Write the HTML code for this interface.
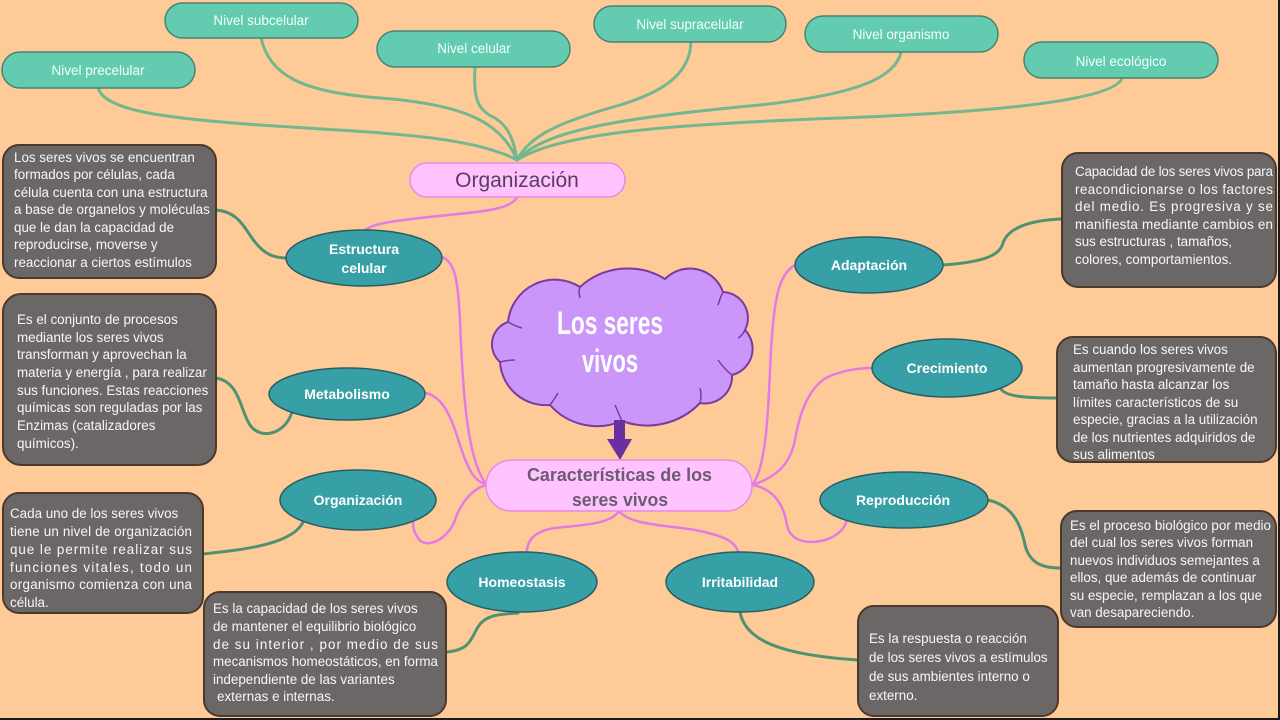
<!DOCTYPE html>
<html>
<head>
<meta charset="utf-8">
<style>
html,body{margin:0;padding:0;background:#FECB98;}
svg{display:block;}
.bt{font-family:"Liberation Sans",sans-serif;font-size:13.4px;fill:#f7f7f7;}
.pl{font-family:"Liberation Sans",sans-serif;font-size:13.5px;fill:#f2fff8;}
.el{font-family:"Liberation Sans",sans-serif;font-size:14px;font-weight:bold;fill:#ffffff;}
</style>
</head>
<body>
<svg width="1280" height="720" viewBox="0 0 1280 720" xmlns="http://www.w3.org/2000/svg">
<rect x="0" y="0" width="1280" height="720" fill="#FECB98"/>

<!-- top green connectors -->
<g fill="none" stroke="#74B78F" stroke-width="3" stroke-linecap="round">
<path d="M98,88 C105,110 160,118 260,125 C380,133 470,135 517,160"/>
<path d="M261,38 C270,75 300,92 380,98 C460,104 500,120 517,160"/>
<path d="M475,67 C473,100 478,110 495,118 C508,126 514,140 517,160"/>
<path d="M691,42 C690,70 670,90 620,105 C560,122 530,135 517,160"/>
<path d="M901,52 C895,80 850,95 760,105 C620,118 545,130 517,160"/>
<path d="M1122,78 C1115,100 1000,112 840,118 C680,124 560,132 517,160"/>
</g>

<!-- lower green connectors -->
<g fill="none" stroke="#4F9272" stroke-width="3" stroke-linecap="round">
<path d="M216,210 C240,212 245,230 255,242 C265,255 275,258 287,258"/>
<path d="M216,378 C240,382 240,410 250,425 C260,440 285,435 292,412"/>
<path d="M203,554 C240,550 295,545 304,520"/>
<path d="M446,652 C470,650 470,640 478,627 C485,615 500,614 518,613"/>
<path d="M740,612 C745,640 780,655 858,660"/>
<path d="M988,500 C1010,505 1020,520 1025,545 C1030,565 1045,568 1061,568"/>
<path d="M1000,388 C1005,396 1020,398 1058,398"/>
<path d="M943,265 C985,262 1000,255 1003,243 C1008,228 1030,220 1062,219"/>
</g>

<!-- pink connectors -->
<g fill="none" stroke="#E47AE4" stroke-width="2.5" stroke-linecap="round">
<path d="M517,197 C510,212 470,212 420,218 C385,222 368,225 364,232"/>
<path d="M442,257 C455,262 458,280 460,320 C463,400 468,460 486,484"/>
<path d="M426,393 C445,398 452,420 460,445 C468,470 475,482 486,484"/>
<path d="M486,485 C470,490 460,505 455,520 C448,540 425,550 418,538 C414,532 413,528 413,522"/>
<path d="M619,511 C610,525 580,525 555,528 C535,531 527,540 527,552"/>
<path d="M619,511 C630,525 665,525 695,530 C720,535 735,540 738,552"/>
<path d="M752,485 C765,470 768,420 770,370 C773,300 778,275 795,265"/>
<path d="M752,485 C775,478 790,465 795,440 C800,410 810,385 830,376 C845,370 860,368 872,368"/>
<path d="M752,485 C770,488 783,500 787,525 C790,540 805,545 825,540 C838,536 845,528 847,520"/>
</g>

<!-- top pills -->
<g fill="#63CCB0" stroke="#4A8270" stroke-width="1.5">
<rect x="2" y="52" width="193" height="36" rx="18"/>
<rect x="165" y="3" width="193" height="35" rx="17.5"/>
<rect x="377" y="31" width="193" height="36" rx="18"/>
<rect x="594" y="6" width="192" height="36" rx="18"/>
<rect x="805" y="16" width="193" height="36" rx="18"/>
<rect x="1024" y="42" width="194" height="36" rx="18"/>
</g>
<g class="pl" text-anchor="middle">
<text x="98" y="75">Nivel precelular</text>
<text x="261" y="25">Nivel subcelular</text>
<text x="474" y="53">Nivel celular</text>
<text x="690" y="29">Nivel supracelular</text>
<text x="901" y="39">Nivel organismo</text>
<text x="1121" y="66">Nivel ecológico</text>
</g>

<!-- Organización pill -->
<rect x="410" y="163" width="215" height="34" rx="17" fill="#FFC4FF" stroke="#E68AE6" stroke-width="1.5"/>
<text x="517" y="187" text-anchor="middle" font-family="Liberation Sans, sans-serif" font-size="21" fill="#5A3D5E">Organización</text>

<!-- dark boxes -->
<g fill="#6B6767" stroke="#4B3A2C" stroke-width="2">
<rect x="3" y="145" width="213" height="133" rx="16"/>
<rect x="3" y="294" width="213" height="171" rx="18"/>
<rect x="3" y="493" width="200" height="120" rx="16"/>
<rect x="204" y="592" width="242" height="124" rx="16"/>
<rect x="1062" y="153" width="214" height="134" rx="16"/>
<rect x="1057" y="337" width="219" height="125" rx="16"/>
<rect x="1061" y="511" width="215" height="116" rx="16"/>
<rect x="858" y="606" width="200" height="110" rx="16"/>
</g>

<!-- box texts -->
<g class="bt">
<text x="14" y="162">Los seres vivos se encuentran</text>
<text x="14" y="179">formados por células, cada</text>
<text x="14" y="197">célula cuenta con una estructura</text>
<text x="14" y="214">a base de organelos y moléculas</text>
<text x="14" y="232">que le dan la capacidad de</text>
<text x="14" y="249">reproducirse, moverse y</text>
<text x="14" y="267">reaccionar a ciertos estímulos</text>

<text x="17" y="324">Es el conjunto de procesos</text>
<text x="17" y="342">mediante los seres vivos</text>
<text x="17" y="359">transforman y aprovechan la</text>
<text x="17" y="377">materia y energía , para realizar</text>
<text x="17" y="395">sus funciones. Estas reacciones</text>
<text x="17" y="412">químicas son reguladas por las</text>
<text x="17" y="430">Enzimas (catalizadores</text>
<text x="17" y="448">químicos).</text>

<text x="10" y="518">Cada uno de los seres vivos</text>
<text x="10" y="536" textLength="182" lengthAdjust="spacing">tiene un nivel de organización</text>
<text x="10" y="554" textLength="182" lengthAdjust="spacing">que le  permite realizar sus</text>
<text x="10" y="572" textLength="182" lengthAdjust="spacing">funciones vitales, todo un</text>
<text x="10" y="589" textLength="182" lengthAdjust="spacing">organismo comienza con una</text>
<text x="10" y="607">célula.</text>

<text x="213" y="613">Es la capacidad de los seres vivos</text>
<text x="213" y="631">de mantener el equilibrio biológico</text>
<text x="213" y="649" textLength="225" lengthAdjust="spacing">de su interior , por medio de sus</text>
<text x="213" y="666" textLength="225" lengthAdjust="spacing">mecanismos homeostáticos, en forma</text>
<text x="213" y="684">independiente de las variantes</text>
<text x="217" y="701">externas e internas.</text>

<text x="1075" y="176" textLength="198" lengthAdjust="spacing">Capacidad de los seres vivos para</text>
<text x="1075" y="194" textLength="198" lengthAdjust="spacing">reacondicionarse o los factores</text>
<text x="1075" y="211" textLength="198" lengthAdjust="spacing">del medio. Es progresiva y se</text>
<text x="1075" y="229" textLength="198" lengthAdjust="spacing">manifiesta mediante cambios en</text>
<text x="1075" y="246">sus estructuras , tamaños,</text>
<text x="1075" y="264">colores, comportamientos.</text>

<text x="1073" y="354">Es cuando los seres vivos</text>
<text x="1073" y="372">aumentan progresivamente de</text>
<text x="1073" y="389">tamaño hasta alcanzar los</text>
<text x="1073" y="407">límites característicos de su</text>
<text x="1073" y="424">especie, gracias a la utilización</text>
<text x="1073" y="442">de los nutrientes adquiridos de</text>
<text x="1073" y="459">sus alimentos</text>

<text x="1070" y="530">Es el proceso biológico por medio</text>
<text x="1070" y="547">del cual los seres vivos forman</text>
<text x="1070" y="565">nuevos individuos semejantes a</text>
<text x="1070" y="582">ellos, que además de continuar</text>
<text x="1070" y="600">su especie, remplazan a los que</text>
<text x="1070" y="617">van desapareciendo.</text>

<text x="869" y="643">Es la respuesta o reacción</text>
<text x="869" y="662">de los seres vivos a estímulos</text>
<text x="869" y="681">de sus ambientes interno o</text>
<text x="869" y="700">externo.</text>
</g>

<!-- ellipses -->
<g fill="#37A0A6" stroke="#275E61" stroke-width="1.5">
<ellipse cx="364" cy="258" rx="78" ry="28"/>
<ellipse cx="347" cy="394" rx="78" ry="26"/>
<ellipse cx="358" cy="500" rx="78" ry="30"/>
<ellipse cx="522" cy="582" rx="75" ry="30"/>
<ellipse cx="740" cy="582" rx="74" ry="30"/>
<ellipse cx="904" cy="500" rx="84" ry="28"/>
<ellipse cx="947" cy="368" rx="75" ry="29"/>
<ellipse cx="869" cy="265" rx="74" ry="28"/>
</g>
<g class="el" text-anchor="middle">
<text x="364" y="254">Estructura</text>
<text x="364" y="273">celular</text>
<text x="347" y="399">Metabolismo</text>
<text x="358" y="505">Organización</text>
<text x="522" y="587">Homeostasis</text>
<text x="740" y="587">Irritabilidad</text>
<text x="903" y="505">Reproducción</text>
<text x="947" y="373">Crecimiento</text>
<text x="869" y="270">Adaptación</text>
</g>

<!-- cloud -->
<path d="M500,362 A23.5,23.5 0 0 1 508,322 A47,47 0 0 1 580,287 A71,71 0 0 1 665,279 A35,35 0 0 1 723,292 A26,26 0 0 1 745,330 A27,27 0 0 1 732,375 A27,27 0 0 1 700,403 A73,73 0 0 1 622,421 A63,63 0 0 1 550,405 A46,46 0 0 1 500,362 Z" fill="#CA96FA" stroke="#7A3C9C" stroke-width="2"/>
<g fill="none" stroke="#7A3C9C" stroke-width="1.5">
<path d="M508,322 Q515,326 522,328"/>
<path d="M580,287 Q578,292 580,298"/>
<path d="M723,292 Q720,298 718,305"/>
<path d="M745,330 Q742,336 738,338"/>
<path d="M732,375 Q725,370 718,360"/>
<path d="M700,403 Q702,395 700,388"/>
<path d="M622,421 Q618,412 615,405"/>
<path d="M550,405 Q555,398 558,393"/>
<path d="M500,362 Q508,360 515,360"/>
</g>
<g font-family="Liberation Sans Narrow, Liberation Sans, sans-serif" font-weight="bold" fill="#ffffff">
<text x="557" y="334" font-size="32" textLength="106" lengthAdjust="spacingAndGlyphs">Los seres</text>
<text x="582" y="372" font-size="32" textLength="56" lengthAdjust="spacingAndGlyphs">vivos</text>
</g>

<!-- arrow -->
<rect x="614" y="420" width="11" height="20" fill="#6A2FA0"/>
<polygon points="607,439 632,439 620,460" fill="#6A2FA0"/>

<!-- Características pill -->
<rect x="486" y="460" width="266" height="51" rx="25.5" fill="#FFC4FF" stroke="#E68AE6" stroke-width="1.5"/>
<g font-family="Liberation Sans, sans-serif" font-weight="bold" font-size="18" fill="#6B5B73">
<text x="527" y="481" textLength="185" lengthAdjust="spacingAndGlyphs">Características de los</text>
<text x="572" y="506" textLength="96" lengthAdjust="spacingAndGlyphs">seres vivos</text>
</g>

<!-- frame edges -->
<rect x="1278" y="0" width="2" height="720" fill="#1a1a1a"/>
<rect x="0" y="718" width="1280" height="2" fill="#1a1a1a"/>
</svg>
</body>
</html>
